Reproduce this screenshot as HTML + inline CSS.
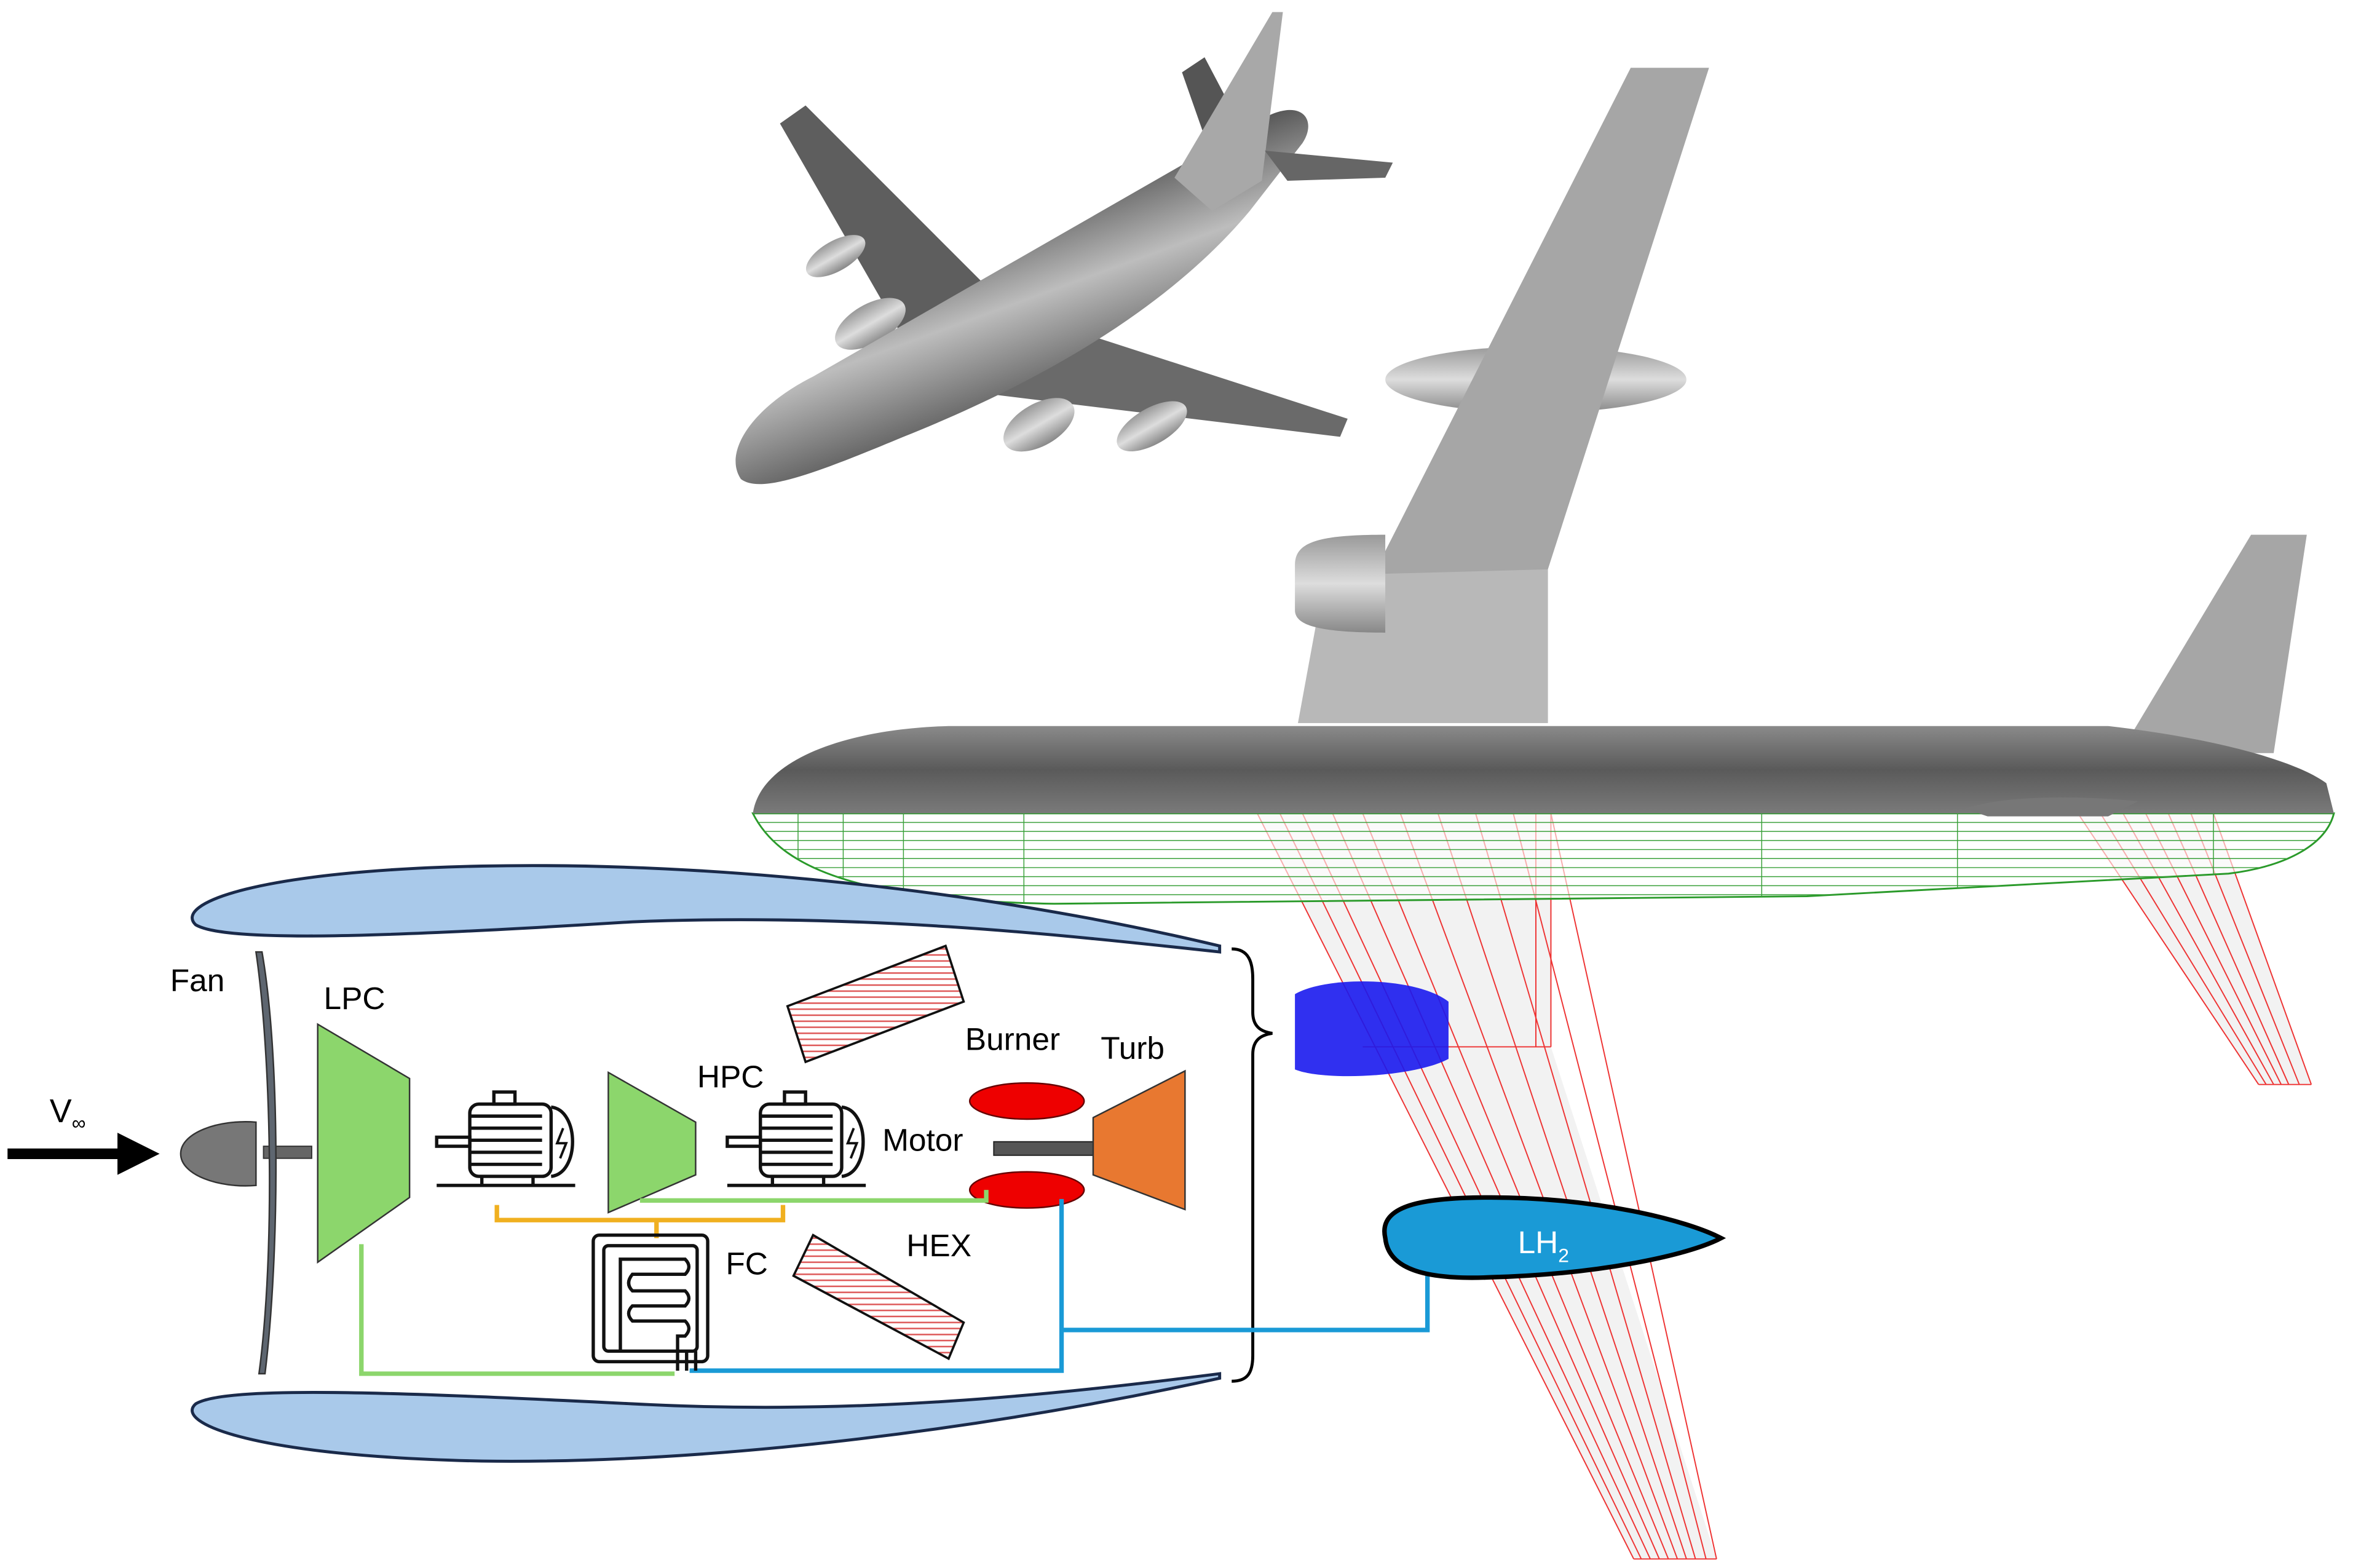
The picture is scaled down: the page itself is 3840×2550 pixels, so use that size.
<!DOCTYPE html>
<html><head><meta charset="utf-8"><style>html,body{margin:0;padding:0;background:#fff}svg{display:block}</style></head>
<body>
<svg width="3840" height="2550" viewBox="0 0 1568 1041" preserveAspectRatio="none" xmlns="http://www.w3.org/2000/svg" font-family="Liberation Sans, sans-serif">
<defs>
<linearGradient id="fus" x1="0" y1="0" x2="0" y2="1"><stop offset="0" stop-color="#8a8a8a"/><stop offset="0.5" stop-color="#5a5a5a"/><stop offset="1" stop-color="#7a7a7a"/></linearGradient>
<linearGradient id="sf" x1="0.35" y1="0.3" x2="0.6" y2="0.75"><stop offset="0" stop-color="#4a4a4a"/><stop offset="0.5" stop-color="#bdbdbd"/><stop offset="1" stop-color="#5a5a5a"/></linearGradient>
<linearGradient id="eng" x1="0" y1="0" x2="0" y2="1"><stop offset="0" stop-color="#999"/><stop offset="0.5" stop-color="#ddd"/><stop offset="1" stop-color="#888"/></linearGradient>
<pattern id="hatch" width="6" height="4" patternUnits="userSpaceOnUse"><rect width="6" height="4" fill="#fff"/><line x1="0" y1="2" x2="6" y2="2" stroke="#d55" stroke-width="1"/></pattern>
<clipPath id="fb"><path d="M500,540 L1550,540 C1545,560 1520,575 1480,580 L1200,595 L700,600 C580,598 520,580 500,540 Z"/></clipPath>
</defs>

<!-- small plane -->
<polygon points="602,228 518,82 535,70 655,190" fill="#5e5e5e"/>
<ellipse cx="555" cy="170" rx="22" ry="10" transform="rotate(-30 555 170)" fill="url(#eng)"/>
<ellipse cx="578" cy="215" rx="26" ry="13" transform="rotate(-30 578 215)" fill="url(#eng)"/>
<polygon points="785,48 800,38 830,95 805,105" fill="#555"/>
<polygon points="700,215 895,278 890,290 660,262" fill="#6a6a6a"/>
<ellipse cx="690" cy="282" rx="26" ry="14" transform="rotate(-30 690 282)" fill="url(#eng)"/>
<ellipse cx="765" cy="283" rx="26" ry="12" transform="rotate(-30 765 283)" fill="url(#eng)"/>
<path d="M492,318 C480,300 500,270 540,250 L840,78 C865,65 875,80 865,95 L830,140 C780,200 700,250 600,290 C540,315 505,328 492,318 Z" fill="url(#sf)"/>
<polygon points="780,118 845,8 852,8 838,120 805,140" fill="#a8a8a8"/>
<polygon points="840,100 925,108 920,118 855,120" fill="#666"/>

<!-- big plane upper wing & engines -->
<ellipse cx="1020" cy="252" rx="100" ry="22" fill="url(#eng)"/>
<polygon points="862,480 1083,45 1135,45 1028,378 1028,480" fill="#a6a6a6"/>
<polygon points="880,382 1028,378 1028,480 862,480" fill="#b8b8b8"/>
<path d="M860,375 C860,360 875,355 920,355 L920,420 C875,420 860,415 860,405 Z" fill="url(#eng)"/>
<polygon points="1408,500 1495,355 1532,355 1510,500" fill="#a6a6a6"/>

<!-- lower wing wireframe -->
<polygon points="835,540 1030,540 1030,695 1140,1035 1085,1035" fill="#f2f2f2"/>
<g stroke="#e33" stroke-width="0.8" fill="none">
<line x1="835" y1="540" x2="1085" y2="1035"/><line x1="850" y1="540" x2="1090" y2="1035"/><line x1="865" y1="540" x2="1096" y2="1035"/><line x1="885" y1="540" x2="1102" y2="1035"/><line x1="905" y1="540" x2="1108" y2="1035"/><line x1="930" y1="540" x2="1114" y2="1035"/><line x1="955" y1="540" x2="1120" y2="1035"/><line x1="980" y1="540" x2="1126" y2="1035"/><line x1="1005" y1="540" x2="1133" y2="1035"/><line x1="1030" y1="540" x2="1140" y2="1035"/>
<line x1="1020" y1="540" x2="1020" y2="695"/><line x1="1030" y1="540" x2="1030" y2="695"/><line x1="905" y1="695" x2="1030" y2="695"/>
<line x1="1085" y1="1035" x2="1140" y2="1035"/>
</g>
<polygon points="1380,540 1470,540 1535,720 1500,720" fill="#f2f2f2"/>
<g stroke="#e33" stroke-width="0.8">
<line x1="1380" y1="540" x2="1500" y2="720"/><line x1="1395" y1="540" x2="1505" y2="720"/><line x1="1410" y1="540" x2="1510" y2="720"/><line x1="1425" y1="540" x2="1515" y2="720"/><line x1="1440" y1="540" x2="1520" y2="720"/><line x1="1455" y1="540" x2="1527" y2="720"/><line x1="1470" y1="540" x2="1535" y2="720"/><line x1="1500" y1="720" x2="1535" y2="720"/>
</g>

<!-- fuselage -->
<path d="M500,540 L1550,540 C1545,560 1520,575 1480,580 L1200,595 L700,600 C580,598 520,580 500,540 Z" fill="#fff" fill-opacity="0.6" stroke="#2a9a2a" stroke-width="1.2"/>
<g clip-path="url(#fb)" stroke="#3aa03a" stroke-width="0.6">
<line x1="500" y1="546" x2="1550" y2="546"/><line x1="500" y1="552" x2="1550" y2="552"/><line x1="500" y1="558" x2="1550" y2="558"/><line x1="500" y1="564" x2="1550" y2="564"/><line x1="500" y1="570" x2="1550" y2="570"/><line x1="500" y1="576" x2="1550" y2="576"/><line x1="500" y1="582" x2="1550" y2="582"/><line x1="500" y1="588" x2="1550" y2="588"/><line x1="500" y1="594" x2="1550" y2="594"/>
<line x1="530" y1="540" x2="530" y2="600"/><line x1="560" y1="540" x2="560" y2="600"/><line x1="600" y1="540" x2="600" y2="600"/><line x1="680" y1="540" x2="680" y2="600"/><line x1="1170" y1="540" x2="1170" y2="600"/><line x1="1300" y1="540" x2="1300" y2="600"/><line x1="1470" y1="540" x2="1470" y2="600"/>
</g>
<path d="M500,540 C505,505 560,484 630,482 L1400,482 C1470,490 1525,505 1545,520 L1550,540 Z" fill="url(#fus)"/>
<path d="M1305,537 C1330,528 1380,528 1420,532 L1400,542 L1320,542 Z" fill="#777"/>

<!-- blue tank -->
<path d="M860,660 C880,648 940,648 962,665 L962,703 C940,715 880,718 860,710 Z" fill="#1a1aee" opacity="0.9"/>

<!-- nacelles -->
<path d="M810,628 C650,590 470,572 320,575 C170,578 115,600 130,614 C150,626 260,622 420,612 C570,606 700,620 810,632 Z" fill="#a9c9ea" stroke="#1a2a4a" stroke-width="2"/>
<path d="M810,915 C650,950 470,972 320,970 C170,967 115,945 130,932 C150,920 260,924 420,932 C570,940 700,926 810,912 Z" fill="#a9c9ea" stroke="#1a2a4a" stroke-width="2"/>

<!-- brace -->
<path d="M818,630 C830,630 832,640 832,650 L832,672 C832,682 838,685 845,686 C838,687 832,690 832,700 L832,900 C832,912 828,917 818,917" fill="none" stroke="#000" stroke-width="2"/>

<!-- arrow -->
<line x1="5" y1="766" x2="80" y2="766" stroke="#000" stroke-width="7"/>
<polygon points="78,752 106,766 78,780" fill="#000"/>
<text x="33" y="745" font-size="22">V<tspan font-size="13" dy="5">∞</tspan></text>

<!-- fan -->
<path d="M170,745 C145,743 120,752 120,766 C120,780 145,789 170,787 Z" fill="#777" stroke="#333" stroke-width="1"/>
<rect x="175" y="761" width="32" height="8" fill="#666" stroke="#333" stroke-width="0.8"/>
<path d="M170,632 C180,700 183,830 172,912 L176,912 C186,830 186,700 174,632 Z" fill="#5e6670" stroke="#333" stroke-width="1"/>
<text x="113" y="658" font-size="21">Fan</text>
<text x="215" y="670" font-size="21">LPC</text>

<!-- LPC -->
<polygon points="211,680 272,716 272,795 211,838" fill="#8cd66c" stroke="#333" stroke-width="1"/>
<!-- HPC -->
<polygon points="404,712 462,745 462,780 404,805" fill="#8cd66c" stroke="#333" stroke-width="1"/>
<text x="463" y="722" font-size="21">HPC</text>

<!-- motors -->
<g fill="none" stroke="#111" stroke-width="2.2">
<g transform="translate(290,725)">
<rect x="22" y="8" width="54" height="48" rx="6"/><rect x="38" y="0" width="14" height="8"/>
<line x1="22" y1="16" x2="70" y2="16"/><line x1="22" y1="24" x2="70" y2="24"/><line x1="22" y1="32" x2="70" y2="32"/><line x1="22" y1="40" x2="70" y2="40"/><line x1="22" y1="48" x2="70" y2="48"/>
<path d="M76,10 C95,12 95,54 76,56"/><path d="M84,24 l-4,10 h6 l-4,10" stroke-width="1.6"/>
<rect x="0" y="30" width="22" height="6"/><line x1="0" y1="62" x2="92" y2="62"/><line x1="30" y1="56" x2="30" y2="62"/><line x1="64" y1="56" x2="64" y2="62"/>
</g>
<g transform="translate(483,725)">
<rect x="22" y="8" width="54" height="48" rx="6"/><rect x="38" y="0" width="14" height="8"/>
<line x1="22" y1="16" x2="70" y2="16"/><line x1="22" y1="24" x2="70" y2="24"/><line x1="22" y1="32" x2="70" y2="32"/><line x1="22" y1="40" x2="70" y2="40"/><line x1="22" y1="48" x2="70" y2="48"/>
<path d="M76,10 C95,12 95,54 76,56"/><path d="M84,24 l-4,10 h6 l-4,10" stroke-width="1.6"/>
<rect x="0" y="30" width="22" height="6"/><line x1="0" y1="62" x2="92" y2="62"/><line x1="30" y1="56" x2="30" y2="62"/><line x1="64" y1="56" x2="64" y2="62"/>
</g>
</g>
<text x="586" y="764" font-size="21">Motor</text>

<!-- hatched HEX -->
<polygon points="523,668 628,628 640,665 535,705" fill="url(#hatch)" stroke="#111" stroke-width="1.5"/>
<polygon points="527,847 540,820 640,878 630,902" fill="url(#hatch)" stroke="#111" stroke-width="1.5"/>
<text x="602" y="834" font-size="21">HEX</text>

<!-- burner & turbine -->
<text x="641" y="697" font-size="21">Burner</text>
<text x="731" y="703" font-size="21">Turb</text>
<ellipse cx="682" cy="731" rx="38" ry="12" fill="#e00" stroke="#600" stroke-width="1"/>
<ellipse cx="682" cy="790" rx="38" ry="12" fill="#e00" stroke="#600" stroke-width="1"/>
<rect x="660" y="758" width="66" height="9" fill="#555" stroke="#222" stroke-width="0.8"/>
<polygon points="726,742 787,711 787,803 726,780" fill="#e87830" stroke="#333" stroke-width="1"/>

<!-- lines -->
<polyline points="330,800 330,810 520,810 520,800" fill="none" stroke="#f0b020" stroke-width="3"/>
<line x1="436" y1="810" x2="436" y2="822" stroke="#f0b020" stroke-width="3"/>
<polyline points="425,797 655,797 655,790" fill="none" stroke="#8cd66c" stroke-width="3"/>
<polyline points="240,826 240,912 448,912" fill="none" stroke="#8cd66c" stroke-width="3"/>
<polyline points="458,910 705,910 705,796" fill="none" stroke="#1a9ad6" stroke-width="3"/>
<polyline points="705,883 948,883 948,845" fill="none" stroke="#1a9ad6" stroke-width="3"/>

<!-- FC -->
<g fill="none" stroke="#111" stroke-width="2.2">
<rect x="394" y="820" width="76" height="84" rx="4"/>
<rect x="401" y="827" width="62" height="70" rx="3"/>
<path d="M412,897 L412,836 L455,836 Q460,841 455,846 L420,846 Q415,852 420,857 L455,857 Q460,862 455,867 L420,867 Q415,872 420,877 L455,877 Q460,882 455,887 L450,887 L450,910"/>
<path d="M456,897 L456,910 M462,897 L462,910"/>
</g>
<text x="482" y="846" font-size="21">FC</text>

<!-- LH2 -->
<path d="M920,822 C915,800 945,795 990,795 C1060,795 1120,810 1143,822 C1120,834 1060,846 990,848 C945,850 922,842 920,822 Z" fill="#1a9ad6" stroke="#000" stroke-width="3"/>
<text x="1008" y="832" font-size="21" fill="#fff">LH<tspan font-size="13" dy="6">2</tspan></text>
</svg>
</body></html>
